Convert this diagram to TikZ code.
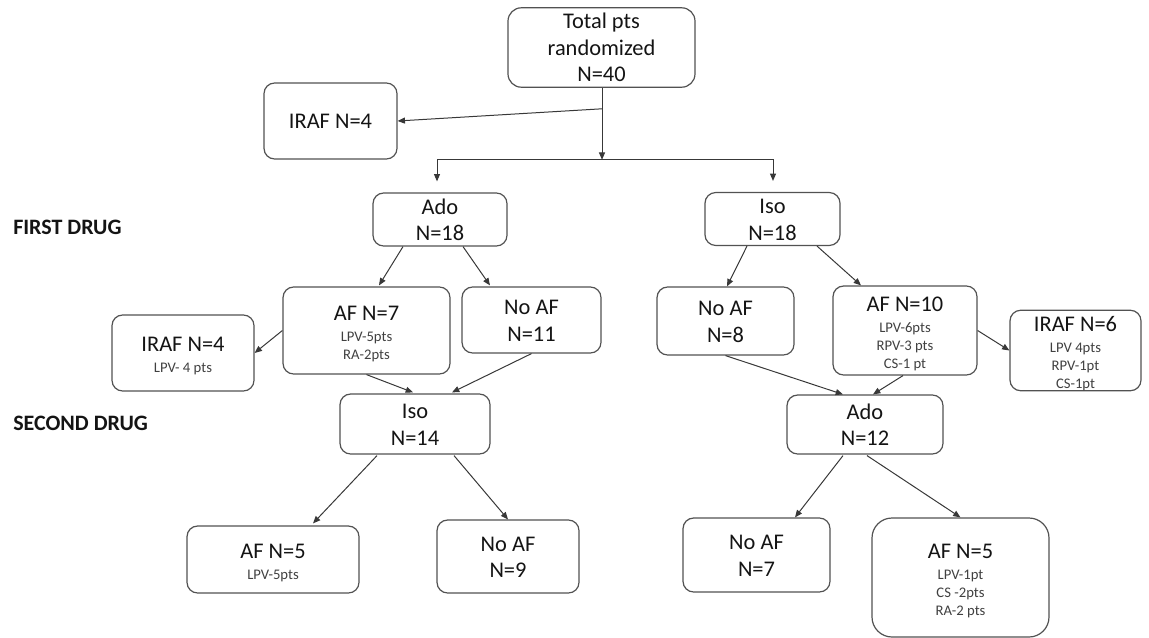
\documentclass[tikz,border=0pt]{standalone}
\usepackage{fontspec}
\setmainfont{Carlito}
\usetikzlibrary{arrows.meta,calc}
\newcommand\BL[1]{\hbox{\fontsize{16.8}{0}\selectfont\rule[-4.1pt]{0pt}{19.85pt}#1}}
\newcommand\SL[1]{\hbox{\fontsize{11}{0}\selectfont\color{black!75}\rule[-1.9pt]{0pt}{13.5pt}#1}}
\newcommand\stk[1]{\vbox{\baselineskip=0pt\lineskip=0pt\lineskiplimit=0pt\halign{\hfil##\hfil\cr#1\crcr}}}
\tikzset{
  box/.style={draw=black!68, line width=0.9pt, rounded corners=8pt, inner sep=0pt, text=black!92},
  wh/.style 2 args={minimum width=#1*0.75pt, minimum height=#2*0.75pt},
  con/.style={draw=black!78, line width=0.75pt, -{Triangle[length=5.5pt,width=4.5pt]}},
  lab/.style={font=\fontsize{16.5}{20}\selectfont\bfseries, text=black!92, inner sep=0pt, anchor=west}
}
\begin{document}
\begin{tikzpicture}[x=0.75pt,y=-0.75pt]
\useasboundingbox (0,0) rectangle (1149,638);
% boxes
\node[box, wh={187}{79}, rounded corners=10pt] (total) at (601.5,47.5) {\stk{\BL{Total pts}\cr\BL{randomized}\cr\BL{N=40}}};
\node[box, wh={133}{76}] (iraf0) at (330.5,121) {\stk{\BL{IRAF N=4}}};
\node[box, wh={134}{53}] (ado1) at (440,219.5) {\stk{\BL{Ado}\cr\BL{N=18}}};
\node[box, wh={135}{52}] (iso1) at (772.5,219) {\stk{\BL{Iso}\cr\BL{N=18}}};
\node[box, wh={167}{87}] (af7) at (366.5,330.5) {\stk{\BL{AF N=7}\cr\SL{LPV-5pts}\cr\SL{RA-2pts}}};
\node[box, wh={139}{66}] (noaf11) at (531.5,320) {\stk{\BL{No AF}\cr\BL{N=11}}};
\node[box, wh={142}{76}] (iraf4) at (183,353) {\stk{\BL{IRAF N=4}\cr\SL{LPV- 4 pts}}};
\node[box, wh={137}{68}] (noaf8) at (725.5,321) {\stk{\BL{No AF}\cr\BL{N=8}}};
\node[box, wh={144}{89}] (af10) at (905,330.5) {\stk{\BL{AF N=10}\cr\SL{LPV-6pts}\cr\SL{RPV-3 pts}\cr\SL{CS-1 pt}}};
\node[box, wh={131}{80}] (iraf6) at (1075.5,350.5) {\stk{\BL{IRAF N=6}\cr\SL{LPV 4pts}\cr\SL{RPV-1pt}\cr\SL{CS-1pt}}};
\node[box, wh={150}{60}] (iso14) at (415,424) {\stk{\BL{Iso}\cr\BL{N=14}}};
\node[box, wh={156}{59}] (ado12) at (865,424.5) {\stk{\BL{Ado}\cr\BL{N=12}}};
\node[box, wh={172}{67}] (af5a) at (273,559.5) {\stk{\BL{AF N=5}\cr\SL{LPV-5pts}}};
\node[box, wh={142}{73}] (noaf9) at (508,556.5) {\stk{\BL{No AF}\cr\BL{N=9}}};
\node[box, wh={147}{74}] (noaf7) at (756.5,555) {\stk{\BL{No AF}\cr\BL{N=7}}};
\node[box, wh={177}{119}, rounded corners=15pt] (af5b) at (960.5,577.5) {\stk{\BL{AF N=5}\cr\SL{LPV-1pt}\cr\SL{CS -2pts}\cr\SL{RA-2 pts}}};
% labels
\node[lab] (first) at (13,227) {FIRST DRUG};
\node[lab] (second) at (13,423) {SECOND DRUG};
% connectors
\coordinate (split) at ($(total.south)+(0.5,72)$);
\coordinate (t1) at ($(total.south)+(0.5,21)$);
\draw[con] (total.south -| split) -- (split);
\draw[con] (t1) -- (iraf0.east);
\draw[con] (split) -| ($(ado1.north)+(-3,-11)$);
\draw[con] (split) -| ($(iso1.north)+(0.5,-11)$);
\draw[con] ($(ado1.south)+(-37,0)$) -- ($(af7.north)+(12.5,-1)$);
\draw[con] ($(ado1.south)+(23,0)$) -- ($(noaf11.north)+(-41.5,-1)$);
\draw[con] (af7.west) -- (iraf4.east);
\draw[con] (af7.south) -- ($(iso14.north)+(-2,-1)$);
\draw[con] (noaf11.south) -- ($(iso14.north)+(37,-1)$);
\draw[con] ($(iso1.south)+(-25.5,0)$) -- ($(noaf8.north)+(1.5,0)$);
\draw[con] ($(iso1.south)+(44.5,0)$) -- ($(af10.north)+(-44,0)$);
\draw[con] (af10.east) -- (iraf6.west);
\draw[con] (noaf8.south) -- ($(ado12.north)+(-22,0)$);
\draw[con] ($(af10.south)+(-2,0)$) -- ($(ado12.north)+(8,0)$);
\draw[con] ($(iso14.south)+(-38,1)$) -- ($(af5a.north)+(40,-2)$);
\draw[con] ($(iso14.south)+(39,1)$) -- (noaf9.north);
\draw[con] ($(ado12.south)+(-22,1)$) -- ($(noaf7.north)+(38.5,0)$);
\draw[con] ($(ado12.south)+(2,1)$) -- (af5b.north);
\end{tikzpicture}
\end{document}
